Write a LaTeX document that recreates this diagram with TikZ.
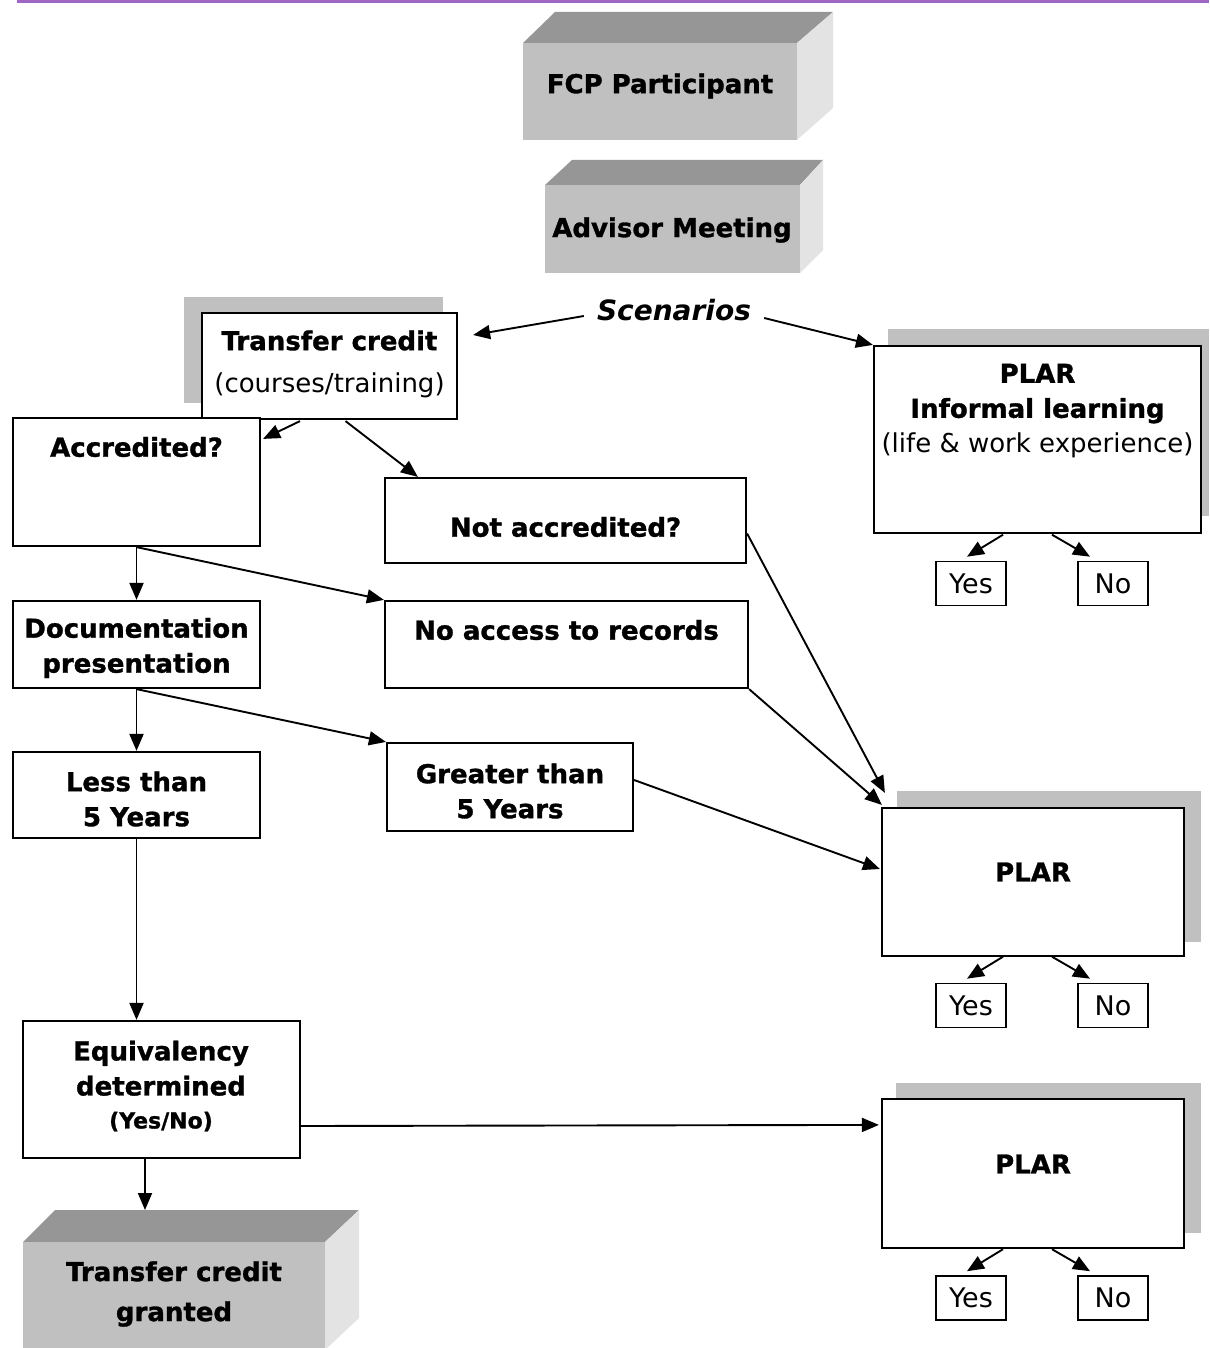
\documentclass[tikz,border=0pt]{standalone}
\usepackage{fontspec}
\setmainfont{DejaVu Sans}[BoldFeatures={FakeBold=1.2}]
\usetikzlibrary{arrows.meta,calc}
\definecolor{shadowgray}{RGB}{192,192,192}
\definecolor{topgray}{RGB}{150,150,150}
\definecolor{sidegray}{RGB}{227,227,227}
\definecolor{frontgray}{RGB}{192,192,192}
\definecolor{rulepurple}{RGB}{160,102,196}
\newcommand\mkbox[6][box]{\node[#1, minimum width={#5-#3}, minimum height={#6-#4}] (#2) at ({(#3+#5)/2},{(#4+#6)/2}) {};}
\begin{document}
\begin{tikzpicture}[x=1pt,y=-1pt,
  box/.style={draw=black, line width=2.2pt, fill=white, inner sep=0pt},
  ynbox/.style={draw=black, line width=1.6pt, fill=white, inner sep=0pt, minimum width=70pt, minimum height=44pt, font=\fontsize{27}{30}\selectfont},
  lbl/.style={inner sep=0pt, align=center, font=\fontsize{26}{35}\selectfont\bfseries},
  arr/.style={line width=1.9pt, -{Triangle[length=17pt,width=14pt]}},
  face/.style={inner sep=0pt, fill=frontgray}
]
\useasboundingbox (0,0) rectangle (1209,1348);

% top rule
\fill[rulepurple] (17,0) rectangle (1209,3);

% FCP Participant cube
\fill[topgray] (523,43) -- (555,12) -- (833,12) -- (797,43) -- cycle;
\fill[sidegray] (797,43) -- (833,12) -- (833,108) -- (797,140) -- cycle;
\node[face, minimum width=274pt, minimum height=97pt] (fcp) at (660,91.5) {};
\node[lbl] (fcpT) at (660,86) {FCP Participant};

% Advisor Meeting cube
\fill[topgray] (545,185) -- (572,160) -- (823,160) -- (800,185) -- cycle;
\fill[sidegray] (800,185) -- (823,160) -- (823,250) -- (800,273) -- cycle;
\node[face, minimum width=255pt, minimum height=88pt] (adv) at (672.5,229) {};
\node[lbl] (advT) at (672,230) {Advisor Meeting};

% Scenarios
\node[inner sep=0pt, font=\fontsize{28}{30}\selectfont\bfseries\itshape] (scen) at (674,310) {Scenarios};

% Transfer credit
\fill[shadowgray] (184,297) rectangle (443,403);
\mkbox{tc}{202}{313}{457}{419}
\node[lbl] (tcT) at (329.5,364) {Transfer credit\\[7pt]\mdseries(courses/training)};

% PLAR informal
\fill[shadowgray] (888,329) rectangle (1209,516);
\mkbox{pi}{874}{346}{1201}{533}
\node[lbl] (piT) at (1037.5,411) {PLAR\\Informal learning\\\mdseries(life \& work experience)};
\node[ynbox] (y1) at (971,583.5) {Yes};
\node[ynbox] (n1) at (1113,583.5) {No};

% left column and middle column
\mkbox{acc}{13}{418}{260}{546}
\node[lbl] (accT) at (136.5,447) {Accredited?};
\mkbox{nacc}{385}{478}{746}{563}
\node[lbl] (naccT) at (565.5,527) {Not accredited?};
\mkbox{doc}{13}{601}{260}{688}
\node[lbl] (docT) at (136.5,648) {Documentation\\presentation};
\mkbox{nar}{385}{601}{748}{688}
\node[lbl] (narT) at (566.5,630) {No access to records};
\mkbox{lt}{13}{752}{260}{838}
\node[lbl] (ltT) at (136.5,799) {Less than\\5 Years};
\mkbox{gt}{387}{743}{633}{831}
\node[lbl] (gtT) at (510,791) {Greater than\\5 Years};

% PLAR middle
\fill[shadowgray] (897,791) rectangle (1201,942);
\mkbox{pm}{882}{808}{1184}{956}
\node[lbl] (pmT) at (1033,872) {PLAR};
\node[ynbox] (y2) at (971,1005.5) {Yes};
\node[ynbox] (n2) at (1113,1005.5) {No};

% Equivalency
\mkbox{eq}{23}{1021}{300}{1158}
\node[lbl] (eqT) at (161,1086) {Equivalency\\determined\\[-2pt]{\fontsize{22}{33}\selectfont (Yes/No)}};

% PLAR bottom
\fill[shadowgray] (896,1083) rectangle (1201,1233);
\mkbox{pb}{882}{1099}{1184}{1248}
\node[lbl] (pbT) at (1033,1164) {PLAR};
\node[ynbox] (y3) at (971,1298) {Yes};
\node[ynbox] (n3) at (1113,1298) {No};

% Transfer credit granted cube
\fill[topgray] (23,1242) -- (55,1210) -- (359,1210) -- (325,1242) -- cycle;
\fill[sidegray] (325,1242) -- (359,1210) -- (359,1318) -- (325,1350) -- cycle;
\node[face, minimum width=302pt, minimum height=110pt] (tcg) at (174,1297) {};
\node[lbl] (tcgT) at (174,1294) {Transfer credit\\[5pt]granted};
\coordinate (tcgtop) at (145,1210);

% connectors
\draw[arr] ($(scen.west)+(-13,6)$) -- ($(tc.east)+(15,-31)$);
\draw[arr] ($(scen.east)+(13,8)$) -- (pi.north west);
\draw[arr] ($(tc.south)+(-29.5,1)$) -- ($(acc.north east)+(2,22)$);
\draw[arr] ($(tc.south)+(16,1)$) -- ($(nacc.north west)+(34,0)$);
\draw[arr] (acc.south) -- (doc.north);
\draw[arr] (acc.south) -- (nar.north west);
\draw[arr] (doc.south) -- (lt.north);
\draw[arr] (doc.south) -- (gt.north west);
\draw[arr] ($(nacc.east)+(0,13)$) -- ($(pm.north west)+(4,-14)$);
\draw[arr] (nar.south east) -- ($(pm.north west)+(1,-2)$);
\draw[arr] ($(gt.east)+(0,-7)$) -- ($(pm.west)+(-1,-13)$);
\draw[arr] (lt.south) -- (lt.south |- eq.north);
\draw[arr] ($(eq.east)+(0,36.5)$) -- ($(pb.north west)+(-2,27)$);
\draw[arr] (eq.south -| tcgtop) -- (tcgtop);
\foreach \y/\n in {y1/n1, y2/n2, y3/n3} {
  \draw[arr] ($(\y.north)+(32,-26)$) -- ($(\y.north)+(-4,-4)$);
  \draw[arr] ($(\n.north)+(-61,-26)$) -- ($(\n.north)+(-23,-4)$);
}
\end{tikzpicture}
\end{document}
